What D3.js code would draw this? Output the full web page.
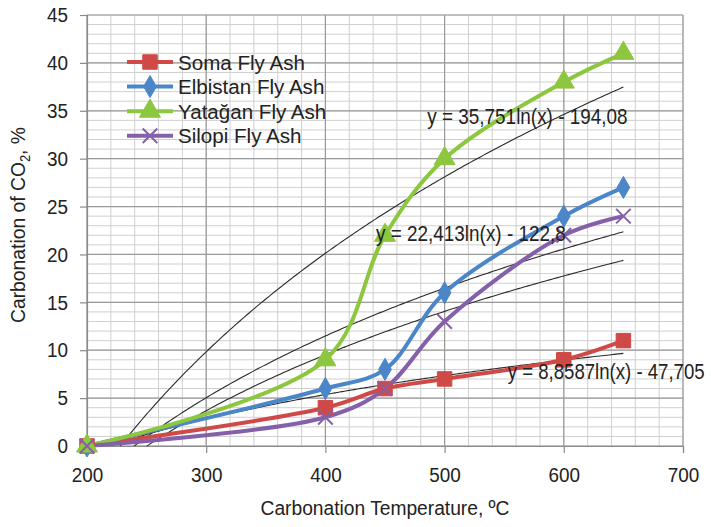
<!DOCTYPE html>
<html>
<head>
<meta charset="utf-8">
<script src="https://cdn.jsdelivr.net/npm/d3@7"></script>
<style>
  body { margin: 0; background: #fff; }
  svg text { font-family: "Liberation Sans", Arial, sans-serif; fill: #222; }
</style>
</head>
<body>
<svg id="chart" width="711" height="527"></svg>
<script>
// Data
const temperatures = [200, 400, 450, 500, 600, 650];
const seriesNames = ["Soma Fly Ash", "Elbistan Fly Ash", "Yatağan Fly Ash", "Silopi Fly Ash"];
const somaValues = [0, 4, 6, 7, 9, 11];
const elbistanValues = [0, 6, 8, 16, 24, 27];
const yataganValues = [0, 9, 22, 30, 38, 41];
const silopiValues = [0, 3, 6, 13, 22, 24];
// log trendlines y = a ln(x) - b
const trendA = [8.8587, 22.413, 35.751, 20.3];
const trendB = [47.705, 122.8, 194.08, 112.1];
const xTicks = [200, 300, 400, 500, 600, 700];
const yTicks = [0, 5, 10, 15, 20, 25, 30, 35, 40, 45];

const svg = d3.select("#chart");
const margin = { left: 87, right: 28, top: 15, bottom: 81 };
const width = 711, height = 527;

const x = d3.scaleLinear().domain([200, 700]).range([margin.left, width - margin.right]);
const y = d3.scaleLinear().domain([0, 45]).range([height - margin.bottom, margin.top]);

const colors = ["#cf4a47", "#4a86c8", "#8dc63f", "#8460ab"];
const markers = ["square", "diamond", "triangle", "cross"];
const series = [somaValues, elbistanValues, yataganValues, silopiValues].map((vals, i) => ({
  name: seriesNames[i],
  color: colors[i],
  marker: markers[i],
  points: temperatures.map((t, j) => ({ t: t, v: vals[j] }))
}));

// text drawn a bit condensed, like the original
const narrowText = (g, px, py, str, size, sx, anchor) => g.append("text")
  .attr("transform", `translate(${px},${py}) scale(${sx},1)`)
  .attr("text-anchor", anchor || "start")
  .attr("font-size", size + "px")
  .text(str);

// minor grid
const grid = svg.append("g");
grid.selectAll(".vminor")
  .data(d3.range(200, 701, 20))
  .enter().append("line")
  .attr("x1", d => x(d)).attr("x2", d => x(d))
  .attr("y1", y(0)).attr("y2", y(45))
  .attr("stroke", "#cfcfcf").attr("stroke-width", 1);
grid.selectAll(".hminor")
  .data(d3.range(0, 46, 1))
  .enter().append("line")
  .attr("x1", x(200)).attr("x2", x(700))
  .attr("y1", d => y(d)).attr("y2", d => y(d))
  .attr("stroke", "#cfcfcf").attr("stroke-width", 1);
// major grid
grid.selectAll(".vmajor")
  .data(xTicks)
  .enter().append("line")
  .attr("x1", d => x(d)).attr("x2", d => x(d))
  .attr("y1", y(0)).attr("y2", y(45))
  .attr("stroke", "#9a9a9a").attr("stroke-width", 1.2);
grid.selectAll(".hmajor")
  .data(yTicks)
  .enter().append("line")
  .attr("x1", x(200)).attr("x2", x(700))
  .attr("y1", d => y(d)).attr("y2", d => y(d))
  .attr("stroke", "#9a9a9a").attr("stroke-width", 1.2);

// axes
const tickScale = 0.9;
const xAxis = svg.append("g")
  .attr("transform", `translate(0,${y(0)})`)
  .call(d3.axisBottom(x).tickValues(xTicks).tickSize(7).tickPadding(14));
const yAxis = svg.append("g")
  .attr("transform", `translate(${x(200)},0)`)
  .call(d3.axisLeft(y).tickValues(yTicks).tickSize(7).tickPadding(12));
[xAxis, yAxis].forEach(a => {
  a.select(".domain").attr("stroke", "#8a8a8a").attr("stroke-width", 1.2);
  a.selectAll(".tick line").attr("stroke", "#8a8a8a").attr("stroke-width", 1.2);
  a.selectAll("text").attr("font-size", "21px").attr("fill", "#222")
    .style("font-family", "'Liberation Sans', Arial, sans-serif")
    .attr("transform", `scale(${tickScale},1)`);
});
yAxis.selectAll("text").attr("x", -19 / tickScale);

// clip for trendlines
svg.append("clipPath").attr("id", "plotclip")
  .append("rect")
  .attr("x", x(200)).attr("y", y(45))
  .attr("width", x(700) - x(200)).attr("height", y(0) - y(45));

// trendlines
const trendX = d3.range(200, 650.1, 2);
const trendLine = d3.line().x(d => x(d[0])).y(d => y(d[1]));
svg.append("g").attr("clip-path", "url(#plotclip)")
  .selectAll("path")
  .data(trendA.map((a, i) => trendX.map(t => [t, Math.max(-1, a * Math.log(t) - trendB[i])])))
  .enter().append("path")
  .attr("d", trendLine)
  .attr("fill", "none")
  .attr("stroke", "#2a2a2a")
  .attr("stroke-width", 1.1);

// series lines
const line = d3.line()
  .x(d => x(d.t))
  .y(d => y(d.v))
  .curve(d3.curveCatmullRom.alpha(0.5));

const symbolFor = (m, size) => {
  const types = { square: d3.symbolSquare, diamond: d3.symbolDiamond, triangle: d3.symbolTriangle, cross: d3.symbolX };
  return d3.symbol().type(types[m]).size(size)();
};
const markerSize = { square: 210, diamond: 140, triangle: 190, cross: 140 };

const drawMarker = (g, s, cx, cy) => {
  const p = g.append("path")
    .attr("d", symbolFor(s.marker, markerSize[s.marker]))
    .attr("transform", `translate(${cx},${cy})`);
  if (s.marker === "cross") {
    p.attr("fill", "none").attr("stroke", s.color).attr("stroke-width", 2);
  } else {
    p.attr("fill", s.color).attr("stroke", s.color).attr("stroke-width", 1);
  }
};

series.forEach(s => {
  svg.append("path")
    .datum(s.points)
    .attr("d", line)
    .attr("fill", "none")
    .attr("stroke", s.color)
    .attr("stroke-width", 4);
});
series.forEach(s => {
  const g = svg.append("g");
  s.points.forEach(p => drawMarker(g, s, x(p.t), y(p.v)));
});

// trendline equations (anchored at temperature / value positions)
const eqText = ["y = 35,751ln(x) - 194,08", "y = 22,413ln(x) - 122,8", "y = 8,8587ln(x) - 47,705"];
const eqT = [485.5, 442.5, 553];
const eqV = [33.6, 21.4, 7.0];
const eqG = svg.append("g");
eqText.forEach((t, i) => narrowText(eqG, x(eqT[i]), y(eqV[i]), t, 22, i === 2 ? 0.845 : 0.86));

// legend
const legend = svg.append("g").attr("transform", "translate(127,62)");
series.forEach((s, i) => {
  const g = legend.append("g").attr("transform", `translate(0,${i * 24.6})`);
  g.append("line").attr("x1", 0).attr("x2", 46).attr("y1", 0).attr("y2", 0)
    .attr("stroke", s.color).attr("stroke-width", 4);
  drawMarker(g, s, 23, 0);
  narrowText(g, 51, 7.5, s.name, 21, 0.98);
});

// axis titles
narrowText(svg, x(450), 515, "Carbonation Temperature, ºC", 21, 0.915, "middle");

const yTitle = svg.append("text")
  .attr("transform", `translate(25,225) rotate(-90) scale(0.92,1)`)
  .attr("text-anchor", "middle")
  .attr("font-size", "21px");
yTitle.append("tspan").text("Carbonation of CO");
yTitle.append("tspan").attr("font-size", "14px").attr("dy", "5").text("2");
yTitle.append("tspan").attr("dy", "-5").text(", %");
</script>
</body>
</html>
